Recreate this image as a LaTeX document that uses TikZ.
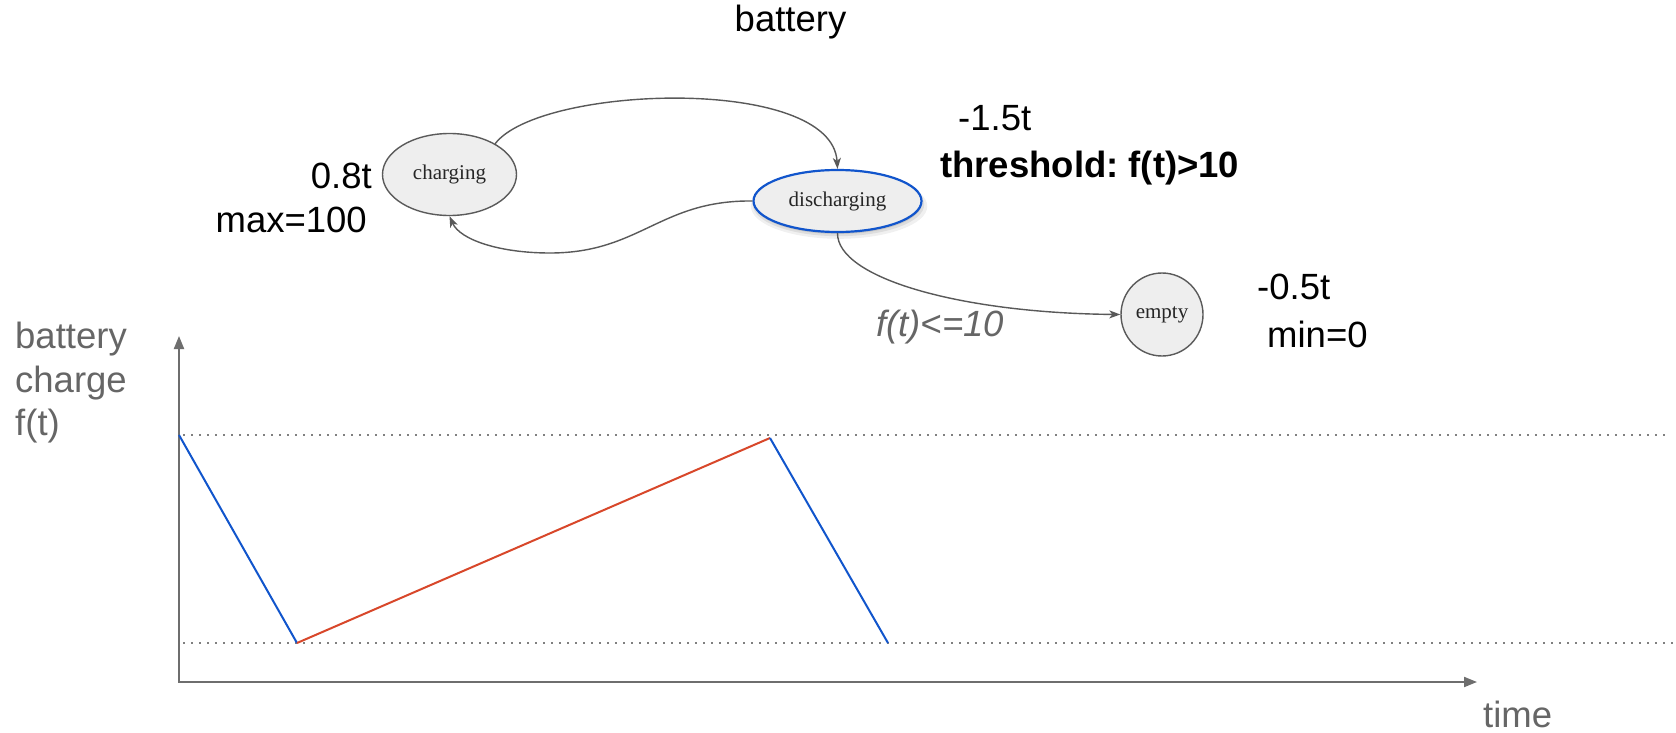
\documentclass[tikz,border=0pt]{standalone}
\usepackage{fontspec}
\setmainfont{Liberation Serif}
\newfontfamily\arialfont{Liberation Sans}
\usetikzlibrary{arrows.meta,shapes.geometric,shadows}
\frenchspacing

\definecolor{edgegray}{HTML}{595959}
\definecolor{nodefill}{HTML}{EEEEEE}
\definecolor{nodeline}{HTML}{5A5A5A}
\definecolor{selblue}{HTML}{1155CC}
\definecolor{labgray}{HTML}{666666}
\definecolor{axisgray}{HTML}{6E6E6E}
\definecolor{dotgray}{HTML}{808080}
\definecolor{plotblue}{HTML}{1155CC}
\definecolor{plotred}{HTML}{D8472A}

\begin{document}
\begin{tikzpicture}[x=1pt,y=-1pt,
  state/.style={ellipse, draw=nodeline, line width=1.4pt, fill=nodefill,
    inner sep=0pt, text=black!85, font=\fontsize{21}{23}\selectfont},
  selected/.style={draw=selblue, line width=2.2pt,
    drop shadow={shadow xshift=1.5pt, shadow yshift=-5pt, opacity=0.06, fill=black, shadow scale=1.05},
    drop shadow={shadow xshift=1pt, shadow yshift=-3.5pt, opacity=0.08, fill=black, shadow scale=1.02},
    drop shadow={shadow xshift=0.5pt, shadow yshift=-2pt, opacity=0.10, fill=black}},
  trans/.style={draw=edgegray, line width=1.4pt,
    -{Stealth[length=11pt,width=8pt,inset=3pt]}},
  big/.style={inner sep=0pt, text=black, font=\arialfont\fontsize{36.5}{40}\selectfont},
  bigbold/.style={big, font=\arialfont\bfseries\fontsize{36.5}{40}\selectfont},
  axislabel/.style={big, text=labgray},
  guardlabel/.style={big, text=labgray, font=\arialfont\itshape\fontsize{36.5}{40}\selectfont},
  axis/.style={draw=axisgray, line width=2pt,
    {Triangle[length=13pt,width=10pt]}-{Triangle[length=13pt,width=10pt]}},
  level/.style={draw=dotgray, line width=1.9pt, dash pattern=on 1.9pt off 6.1pt},
  discharge/.style={draw=plotblue, line width=2pt},
  charge/.style={draw=plotred, line width=2pt}]

% page
\fill[white] (0,0) rectangle (1676,733);
\useasboundingbox (0,0) rectangle (1676,733);

% ---- state machine ----
\node[big, anchor=base] (title) at (790.5,32) {battery};

\node[state, minimum width=134pt, minimum height=82pt] (chg) at (449.5,174.5) {charging};
\node[state, selected, minimum width=168pt, minimum height=62pt] (dis) at (837.5,201) {discharging};
\node[state, minimum width=82pt, minimum height=83pt] (emp) at (1162,314.5) {empty};

\draw[trans] (chg.34) .. controls (540,85) and (832,75) .. (dis.north);
\draw[trans] (dis.west) .. controls (660,200) and (640,253) .. (550,253)
                        .. controls (500,253) and (460,240) .. (chg.south);
\draw[trans] (dis.south) .. controls (837,278) and (960,313) .. (emp.west);

\node[big, anchor=base east] (rchg) at (372,188) {0.8t};
\node[big, anchor=base east] (maxv) at (367,232) {max=100};
\node[big, anchor=base west] (rdis) at (958,131) {-1.5t};
\node[bigbold, anchor=base west] (thr) at (940,177) {threshold: f(t)>10};
\node[guardlabel, anchor=base west] (guard) at (876,336) {f(t)<=10};
\node[big, anchor=base west] (remp) at (1257,299) {-0.5t};
\node[big, anchor=base west] (minv) at (1267,347) {min=0};

% ---- charge plot ----
\node[axislabel, anchor=base west] (ylab1) at (15,348) {battery};
\node[axislabel, anchor=base west] (ylab2) at (15,392) {charge};
\node[axislabel, anchor=base west] (ylab3) at (15,435) {f(t)};
\node[axislabel, anchor=base west] (xlab) at (1483,727) {time};

\coordinate (ytip) at (179,336);
\coordinate (orig) at (179,682);
\coordinate (xtip) at (1477,682);
\draw[axis] (ytip) -- (orig) -- (xtip);

\coordinate (hiL) at (183,435);
\coordinate (hiR) at (1670,435);
\coordinate (loL) at (183,643);
\coordinate (loR) at (1674,643);
\draw[level] (hiL) -- (hiR);
\draw[level] (loL) -- (loR);

\coordinate (p0) at (179,435);
\coordinate (p1) at (297,643);
\coordinate (p2) at (770,438);
\coordinate (p3) at (888,643);
\draw[discharge] (p0) -- (p1);
\draw[charge] (p1) -- (p2);
\draw[discharge] (p2) -- (p3);
\end{tikzpicture}
\end{document}
